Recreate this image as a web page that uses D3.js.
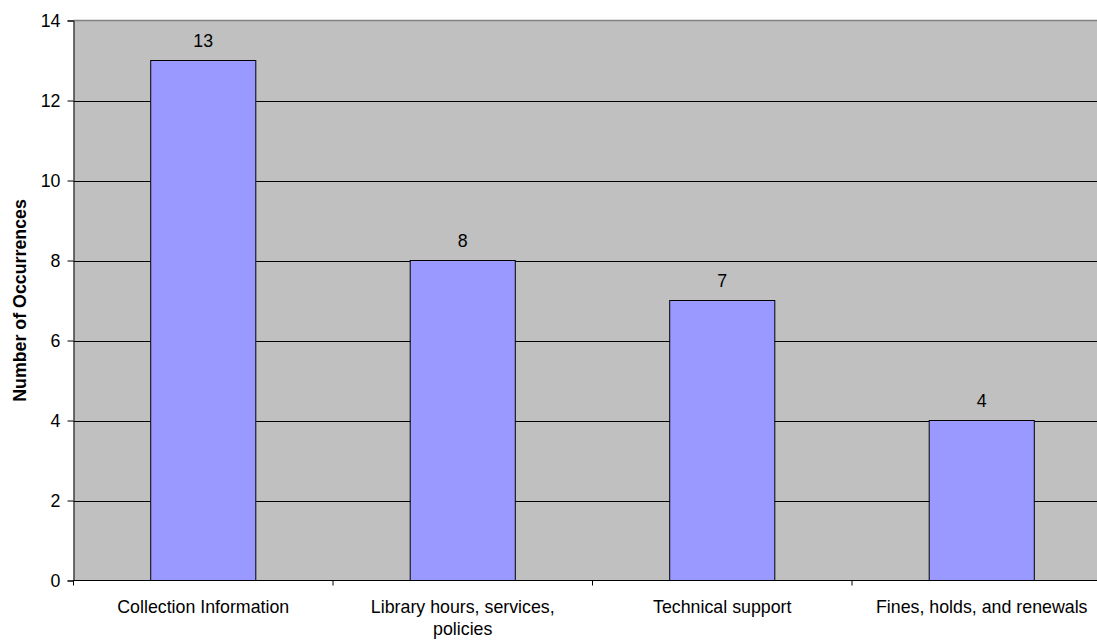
<!DOCTYPE html>
<html><head><meta charset="utf-8">
<script src="https://cdn.jsdelivr.net/npm/d3@7"></script>
<style>body{margin:0;background:#fff}svg{display:block}text{font-family:"Liberation Sans",Arial,sans-serif}</style>
</head><body>
<svg id="c" width="1097" height="640"></svg>
<script>
const categories = [["Collection Information"], ["Library hours, services,", "policies"], ["Technical support"], ["Fines, holds, and renewals"]];
const values = [13, 8, 7, 4];
const yTicks = [0, 2, 4, 6, 8, 10, 12, 14];
const yTitle = "Number of Occurrences";

const FS = 17.8;
const svg = d3.select("#c");
const L = 73.5, T = 20.5, B = 580.5, W = 1038;
const x = d3.scaleBand().domain(d3.range(categories.length)).range([L, L + W]).paddingInner(0.595).paddingOuter(0.2975);
const y = d3.scaleLinear().domain([0, 14]).range([B, T]);

svg.append("rect").attr("x", L).attr("y", T).attr("width", W).attr("height", B - T).attr("fill", "#C0C0C0");
svg.append("line").attr("x1", L).attr("x2", L + W).attr("y1", T).attr("y2", T).attr("stroke", "#808080").attr("stroke-width", 1.5);
svg.append("g").selectAll("line").data(yTicks.filter(d => d > 0 && d < 14)).join("line")
  .attr("x1", L).attr("x2", L + W).attr("y1", d => Math.round(y(d)) + 0.5).attr("y2", d => Math.round(y(d)) + 0.5)
  .attr("stroke", "#000").attr("stroke-width", 1);

svg.append("g").selectAll("rect").data(values).join("rect")
  .attr("x", (d, i) => x(i)).attr("width", x.bandwidth())
  .attr("y", d => y(d)).attr("height", d => y(0) - y(d))
  .attr("fill", "#9999FF").attr("stroke", "#000").attr("stroke-width", 1);

svg.append("g").selectAll("text").data(values).join("text")
  .attr("x", (d, i) => x(i) + x.bandwidth() / 2).attr("y", d => y(d) - 13.5)
  .attr("text-anchor", "middle").attr("font-size", FS).attr("fill", "#000").text(d => d);

const ya = d3.axisLeft(y).tickValues(yTicks).tickSize(6).tickPadding(7).tickFormat(d3.format("d"));
const yg = svg.append("g").attr("transform", `translate(${L},0)`).call(ya);
yg.select(".domain").attr("stroke", "#000");
yg.selectAll("line").attr("stroke", "#000");
yg.selectAll("text").attr("font-size", FS).attr("fill", "#000").attr("font-family", '"Liberation Sans",Arial,sans-serif');

const xb = d3.scaleLinear().domain([0, 4]).range([L, L + W]);
const xg = svg.append("g").attr("transform", `translate(0,${B})`);
xg.append("line").attr("x1", L).attr("x2", L + W).attr("stroke", "#000");
xg.selectAll("line.t").data([0, 1, 2, 3, 4]).join("line").attr("class", "t")
  .attr("x1", d => xb(d)).attr("x2", d => xb(d)).attr("y1", 0).attr("y2", 5).attr("stroke", "#000");

svg.append("g").selectAll("text").data(categories).join("text")
  .attr("text-anchor", "middle").attr("font-size", FS).attr("fill", "#000")
  .attr("transform", (d, i) => `translate(${x(i) + x.bandwidth() / 2},613)`)
  .selectAll("tspan").data(d => d).join("tspan")
  .attr("x", 0).attr("dy", (d, j) => j === 0 ? 0 : 22).text(d => d);

svg.append("text").attr("transform", `translate(26,${(T + B) / 2}) rotate(-90)`)
  .attr("text-anchor", "middle").attr("font-size", FS).attr("font-weight", "bold").attr("fill", "#000").text(yTitle);
</script>
</body></html>
